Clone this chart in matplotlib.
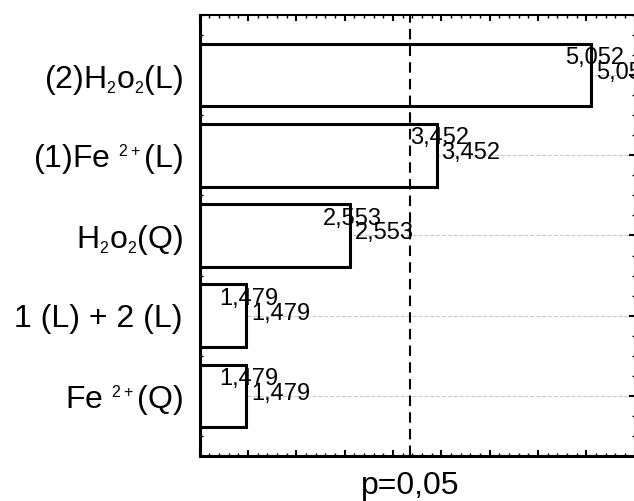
import matplotlib
matplotlib.use("Agg")
import matplotlib.pyplot as plt
import matplotlib._mathtext as mathtext
from matplotlib.ticker import MultipleLocator, NullFormatter

plt.rcParams["font.family"] = ["Liberation Sans", "DejaVu Sans"]
plt.rcParams["mathtext.fontset"] = "custom"
plt.rcParams["mathtext.rm"] = "Liberation Sans"
# smaller sub/superscripts in the factor labels
mathtext.SHRINK_FACTOR = 0.5

# pareto of standardized effects
labels = [r"(2)H$\mathregular{_2}$o$\mathregular{_2}$(L)",
          r"(1)Fe $\mathregular{^{2+}}$(L)",
          r"H$\mathregular{_2}$o$\mathregular{_2}$(Q)",
          "1 (L) + 2 (L)",
          r"Fe $\mathregular{^{2+}}$(Q)"]
effects = [5.052, 3.452, 2.553, 1.479, 1.479]
value_text = ["5,052", "3,452", "2,553", "1,479", "1,479"]
p_crit = 3.182
p_text = "p=0,05"

fig = plt.figure(figsize=(6.34, 5.01), dpi=100)
ax = fig.add_axes([199.5 / 634, 45 / 501, 435 / 634, 441 / 501])

pos = list(range(len(effects)))
ax.barh(pos, effects, height=0.78, color="white", edgecolor="black",
        linewidth=2.2, zorder=2)

for i, (v, t) in enumerate(zip(effects, value_text)):
    ax.annotate(t, xy=(v, i), xytext=(3, 17), textcoords="offset pixels",
                ha="center", va="center", fontsize=17, zorder=4)
    ax.annotate(t, xy=(v, i), xytext=(5, 2), textcoords="offset pixels",
                ha="left", va="center", fontsize=17, zorder=4)

ax.axvline(p_crit, color="black", linestyle=(0, (5, 3)), linewidth=1.5, zorder=3)
ax.text(p_crit, -0.035, p_text, transform=ax.get_xaxis_transform(),
        ha="center", va="top", fontsize=23)

ax.set_xlim(1.0, 5.5)
ax.set_ylim(4.75, -0.75)
ax.set_yticks(pos)
ax.set_yticklabels(labels, fontsize=23)
ax.yaxis.set_minor_locator(MultipleLocator(0.25))
ax.xaxis.set_major_locator(MultipleLocator(0.5))
ax.xaxis.set_minor_locator(MultipleLocator(0.1))
ax.xaxis.set_major_formatter(NullFormatter())

ax.tick_params(which="both", direction="in", top=True, right=True)
ax.tick_params(which="major", length=4, width=1.5)
ax.tick_params(which="minor", length=2, width=1.0)
ax.tick_params(axis="y", which="major", pad=12)

ax.grid(axis="y", which="major", color="#c8c8c8", linestyle="--", linewidth=0.8)
ax.set_axisbelow(True)

ax.spines["left"].set_linewidth(2.2)
ax.spines["bottom"].set_linewidth(2.2)
ax.spines["top"].set_linewidth(1.5)
ax.spines["right"].set_linewidth(1.5)

plt.savefig("out.png", dpi=100)
plt.close()
